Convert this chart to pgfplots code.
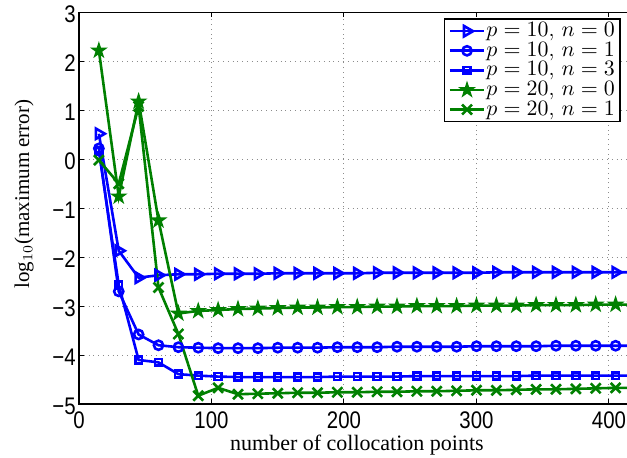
\documentclass[border=0pt]{standalone}
\usepackage{fontspec}
\usepackage{pgfplots}
\pgfplotsset{compat=1.18}
\newfontfamily\helv[FakeStretch=0.85]{Liberation Sans}
\newfontfamily\tms{Liberation Serif}
\definecolor{mblue}{rgb}{0,0,1}
\definecolor{mgreen}{rgb}{0,0.5,0}
\pgfdeclareplotmark{pentagram}{%
  \pgfpathmoveto{\pgfpointpolar{90}{\pgfplotmarksize}}%
  \pgfpathlineto{\pgfpointpolar{126}{0.382\pgfplotmarksize}}%
  \pgfpathlineto{\pgfpointpolar{162}{\pgfplotmarksize}}%
  \pgfpathlineto{\pgfpointpolar{198}{0.382\pgfplotmarksize}}%
  \pgfpathlineto{\pgfpointpolar{234}{\pgfplotmarksize}}%
  \pgfpathlineto{\pgfpointpolar{270}{0.382\pgfplotmarksize}}%
  \pgfpathlineto{\pgfpointpolar{306}{\pgfplotmarksize}}%
  \pgfpathlineto{\pgfpointpolar{342}{0.382\pgfplotmarksize}}%
  \pgfpathlineto{\pgfpointpolar{18}{\pgfplotmarksize}}%
  \pgfpathlineto{\pgfpointpolar{54}{0.382\pgfplotmarksize}}%
  \pgfpathclose
  \pgfusepathqfillstroke
}
\begin{document}
\begin{tikzpicture}
\begin{axis}[
  scale only axis, width=291.5pt, height=195.85pt,
  xmin=0, xmax=440, ymin=-5, ymax=3,
  xtick={0,100,200,300,400}, ytick={-5,-4,-3,-2,-1,0,1,2,3},
  yticklabels={−5,−4,−3,−2,−1,0,1,2,3},
  xtick pos=both, ytick pos=both,
  grid=major, grid style={dotted, black!45, line width=0.5pt},
  axis line style={line width=0.7pt},
  tick align=inside, major tick length=2.5pt, tick style={black, line width=0.5pt},
  ticklabel style={font=\helv\fontsize{12}{12}\selectfont},
  xticklabel style={anchor=north, inner sep=0pt},
  xticklabel shift=3.5pt,
  yticklabel style={anchor=east, inner sep=0pt, xshift=-1.5pt, yshift=-1pt},
  /pgf/number format/assume math mode=true,
  xlabel={number of collocation points},
  ylabel={log$_{10}$(maximum error)},
  xlabel style={font=\tms\fontsize{11}{12}\selectfont, inner sep=0pt, at={([yshift=-23pt]axis description cs:0.4768,0)}, anchor=base},
  ylabel style={font=\tms\fontsize{10.5}{12}\selectfont, inner sep=0pt, at={([xshift=-27.5pt]axis description cs:0,0.536)}, anchor=center},
  every axis plot/.append style={line width=1.3pt},
  legend style={at={(axis description cs:0.626,0.9847)}, anchor=north west, draw=black, line width=0.7pt,
    font=\fontsize{11}{11}\selectfont, inner xsep=2pt, inner ysep=1.2pt, row sep=0pt,
    nodes={inner sep=0.5pt, text height=7.2pt, text depth=1.6pt}},
  legend cell align=left,
]
\addplot[mblue, mark=triangle, mark options={rotate=-90, solid}, mark size=3pt] coordinates {
(15,0.52)(30,-1.87)(45,-2.42)(60,-2.37)(75,-2.35)(90,-2.35)(105,-2.34)(120,-2.34)(135,-2.34)(150,-2.33)(165,-2.33)(180,-2.33)(195,-2.33)(210,-2.33)(225,-2.32)(240,-2.32)(255,-2.32)(270,-2.32)(285,-2.32)(300,-2.32)(315,-2.31)(330,-2.31)(345,-2.31)(360,-2.31)(375,-2.31)(390,-2.31)(405,-2.31)(420,-2.31)(435,-2.31)};
\addlegendentry{$p=10$, $n=0$}
\addplot[mblue, mark=o, mark size=2.3pt] coordinates {
(15,0.22)(30,-2.70)(45,-3.58)(60,-3.80)(75,-3.84)(90,-3.85)(105,-3.86)(120,-3.86)(135,-3.86)(150,-3.85)(165,-3.85)(180,-3.85)(195,-3.84)(210,-3.84)(225,-3.84)(240,-3.83)(255,-3.83)(270,-3.83)(285,-3.83)(300,-3.82)(315,-3.82)(330,-3.82)(345,-3.82)(360,-3.81)(375,-3.81)(390,-3.81)(405,-3.81)(420,-3.81)(435,-3.81)};
\addlegendentry{$p=10$, $n=1$}
\addplot[mblue, mark=square, mark size=1.7pt] coordinates {
(15,0.17)(30,-2.57)(45,-4.10)(60,-4.15)(75,-4.39)(90,-4.42)(105,-4.44)(120,-4.45)(135,-4.45)(150,-4.45)(165,-4.45)(180,-4.45)(195,-4.44)(210,-4.44)(225,-4.44)(240,-4.44)(255,-4.43)(270,-4.43)(285,-4.43)(300,-4.43)(315,-4.43)(330,-4.43)(345,-4.42)(360,-4.42)(375,-4.42)(390,-4.42)(405,-4.42)(420,-4.42)(435,-4.42)};
\addlegendentry{$p=10$, $n=3$}
\addplot[mgreen, mark=pentagram, mark size=3.4pt, mark options={fill=mgreen, line width=0.8pt}] coordinates {
(15,2.22)(30,-0.76)(45,1.18)(60,-1.25)(75,-3.15)(90,-3.10)(105,-3.08)(120,-3.06)(135,-3.05)(150,-3.04)(165,-3.03)(180,-3.03)(195,-3.02)(210,-3.02)(225,-3.01)(240,-3.01)(255,-3.00)(270,-3.00)(285,-3.00)(300,-2.99)(315,-2.99)(330,-2.99)(345,-2.98)(360,-2.98)(375,-2.98)(390,-2.97)(405,-2.97)(420,-2.97)(435,-2.97)};
\addlegendentry{$p=20$, $n=0$}
\addplot[mgreen, mark=x, mark size=3.5pt] coordinates {
(15,-0.02)(30,-0.50)(45,1.08)(60,-2.62)(75,-3.57)(90,-4.83)(105,-4.67)(120,-4.80)(135,-4.79)(150,-4.78)(165,-4.77)(180,-4.77)(195,-4.76)(210,-4.76)(225,-4.75)(240,-4.75)(255,-4.74)(270,-4.74)(285,-4.73)(300,-4.72)(315,-4.72)(330,-4.71)(345,-4.70)(360,-4.70)(375,-4.69)(390,-4.68)(405,-4.67)(420,-4.67)(435,-4.67)};
\addlegendentry{$p=20$, $n=1$}
\end{axis}
\pgfresetboundingbox
\path[use as bounding box] ([xshift=-39.5pt, yshift=-26.5pt]current axis.south west) rectangle ([xshift=274pt, yshift=6.15pt]current axis.north west);
\end{tikzpicture}
\end{document}
